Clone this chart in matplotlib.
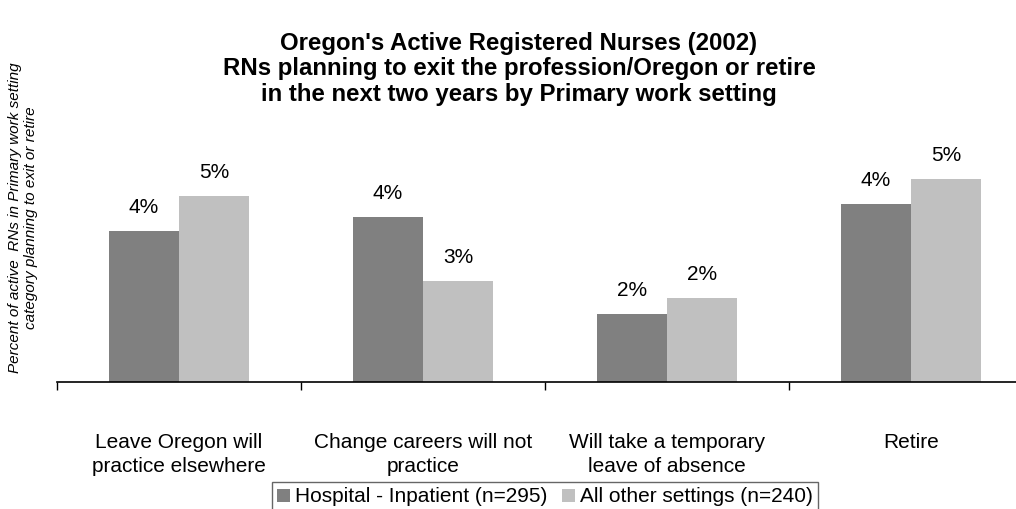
import numpy as np
import matplotlib.pyplot as plt

plt.rcParams['font.family'] = ['Liberation Sans', 'DejaVu Sans']

categories = ['Leave Oregon will\npractice elsewhere', 'Change careers will not\npractice',
              'Will take a temporary\nleave of absence', 'Retire']
hospital = [3.78, 4.13, 1.70, 4.45]
other = [4.65, 2.53, 2.10, 5.08]
series_names = ['Hospital - Inpatient (n=295)', 'All other settings (n=240)']
colors = ['#808080', '#c0c0c0']

fig = plt.figure(figsize=(10.16, 5.09), dpi=100)
ax = fig.add_axes([57 / 1016, 1 - 382 / 509, 976 / 1016, (382 - 150) / 509])

x = np.arange(len(categories))
w = 0.287
b1 = ax.bar(x - w / 2, hospital, w, color=colors[0], label=series_names[0])
b2 = ax.bar(x + w / 2, other, w, color=colors[1], label=series_names[1])

for bars, vals in [(b1, hospital), (b2, other)]:
    for rect, v in zip(bars, vals):
        ax.annotate(f'{round(v):.0f}%', (rect.get_x() + rect.get_width() / 2, v),
                    xytext=(0, 23), textcoords='offset pixels',
                    ha='center', va='center', fontsize=15)

ax.set_xlim(-0.5, len(categories) - 0.5)
ax.set_ylim(0, 232 / 40)
ax.set_xticks(x)
ax.set_xticklabels(categories, fontsize=15, linespacing=1.3)
ax.set_xticks(np.arange(len(categories) + 1) - 0.5, minor=True)
ax.tick_params(axis='x', which='major', length=0, pad=37)
ax.tick_params(axis='x', which='minor', length=6, width=1, direction='out')
ax.set_yticks([])
for s in ['top', 'right', 'left']:
    ax.spines[s].set_visible(False)
ax.spines['bottom'].set_linewidth(1.2)

fig.text(519 / 1016, 1 - 69 / 509, "Oregon's Active Registered Nurses (2002)\n"
         "RNs planning to exit the profession/Oregon or retire\n"
         "in the next two years by Primary work setting",
         ha='center', va='center', fontsize=17.3, fontweight='bold', linespacing=1.15)

fig.text(23 / 1016, 1 - 218 / 509, 'Percent of active  RNs in Primary work setting\ncategory planning to exit or retire',
         rotation=90, ha='center', va='center', fontsize=11, style='italic', linespacing=1.2)

leg = fig.legend(loc='center', bbox_to_anchor=(545 / 1016, 1 - 497 / 509), ncol=2,
                 frameon=True, fancybox=False, edgecolor='#404040', fontsize=15,
                 handlelength=0.6, handleheight=0.6, handletextpad=0.25, columnspacing=0.7,
                 borderpad=0.25)
leg.get_frame().set_linewidth(1)

fig.savefig('out.png', dpi=100)
